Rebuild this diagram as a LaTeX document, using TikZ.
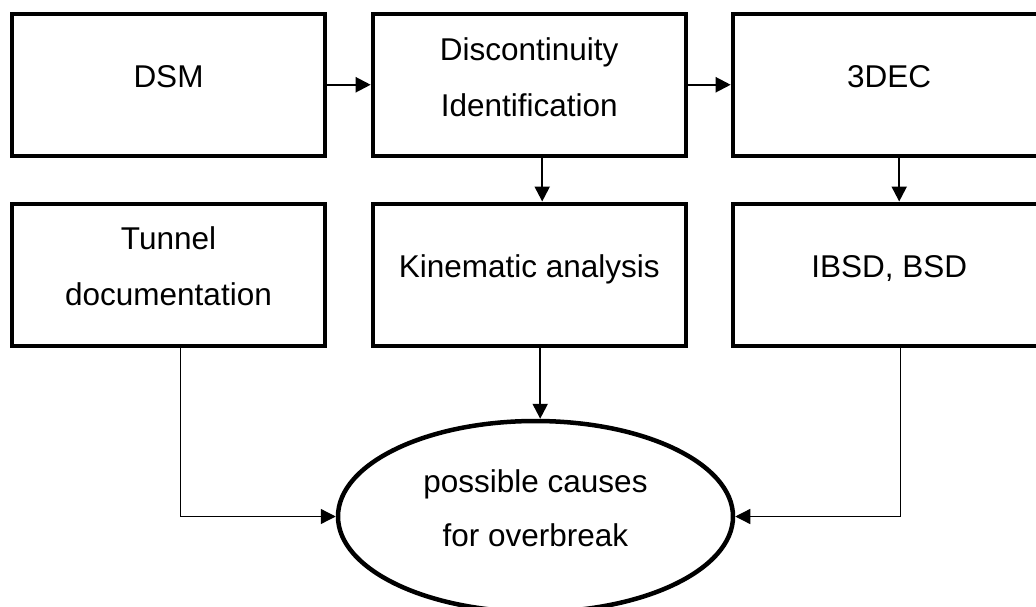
\documentclass[tikz,border=0pt]{standalone}
\usepackage{fontspec}
\setmainfont{Liberation Sans}
\usetikzlibrary{arrows.meta,shapes.geometric,positioning}

\tikzset{
  stepbox/.style={draw,line width=4pt,minimum width=313pt,minimum height=142pt,
    inner sep=0pt,align=center,text depth=16pt,font=\fontsize{31.5}{56}\selectfont},
  goal/.style={ellipse,draw,line width=4.5pt,minimum width=395pt,minimum height=191pt,
    inner sep=0pt,align=center,text depth=16pt,font=\fontsize{31.5}{54}\selectfont},
  flow/.style={-{Triangle[length=15pt,width=15pt]},line width=2.2pt},
  feed/.style={flow,line width=1.3pt}
}

\begin{document}
\begin{tikzpicture}[x=1pt,y=-1pt]
  \useasboundingbox (0,0) rectangle (1036,607);
  % top row
  \node[stepbox] (dsm)  at (168.5,84.75) {DSM};
  \node[stepbox] (disc) at (529.2,84.75) {Discontinuity\\Identification};
  \node[stepbox] (dec)  at (889.2,84.75) {3DEC};
  % second row
  \node[stepbox] (tun)  at (168.5,274.5) {Tunnel\\documentation};
  \node[stepbox] (kin)  at (529.2,274.5) {Kinematic analysis};
  \node[stepbox] (bsd)  at (889.2,274.5) {IBSD, BSD};
  % result
  \node[goal] (ell) at (535.5,516.5) {possible causes\\for overbreak};

  \draw[flow] (dsm) -- (disc);
  \draw[flow] (disc) -- (dec);
  \draw[flow] ([xshift=13pt]disc.south) -- ([xshift=13pt]kin.north);
  \draw[flow] ([xshift=10pt]dec.south) -- ([xshift=10pt]bsd.north);
  \draw[flow] ([xshift=11pt]kin.south) -- ([xshift=11pt]kin.south |- ell.north);
  \draw[feed] ([xshift=12pt]tun.south) |- (ell.west);
  \draw[feed] ([xshift=11pt]bsd.south) |- (ell.east);
\end{tikzpicture}
\end{document}
